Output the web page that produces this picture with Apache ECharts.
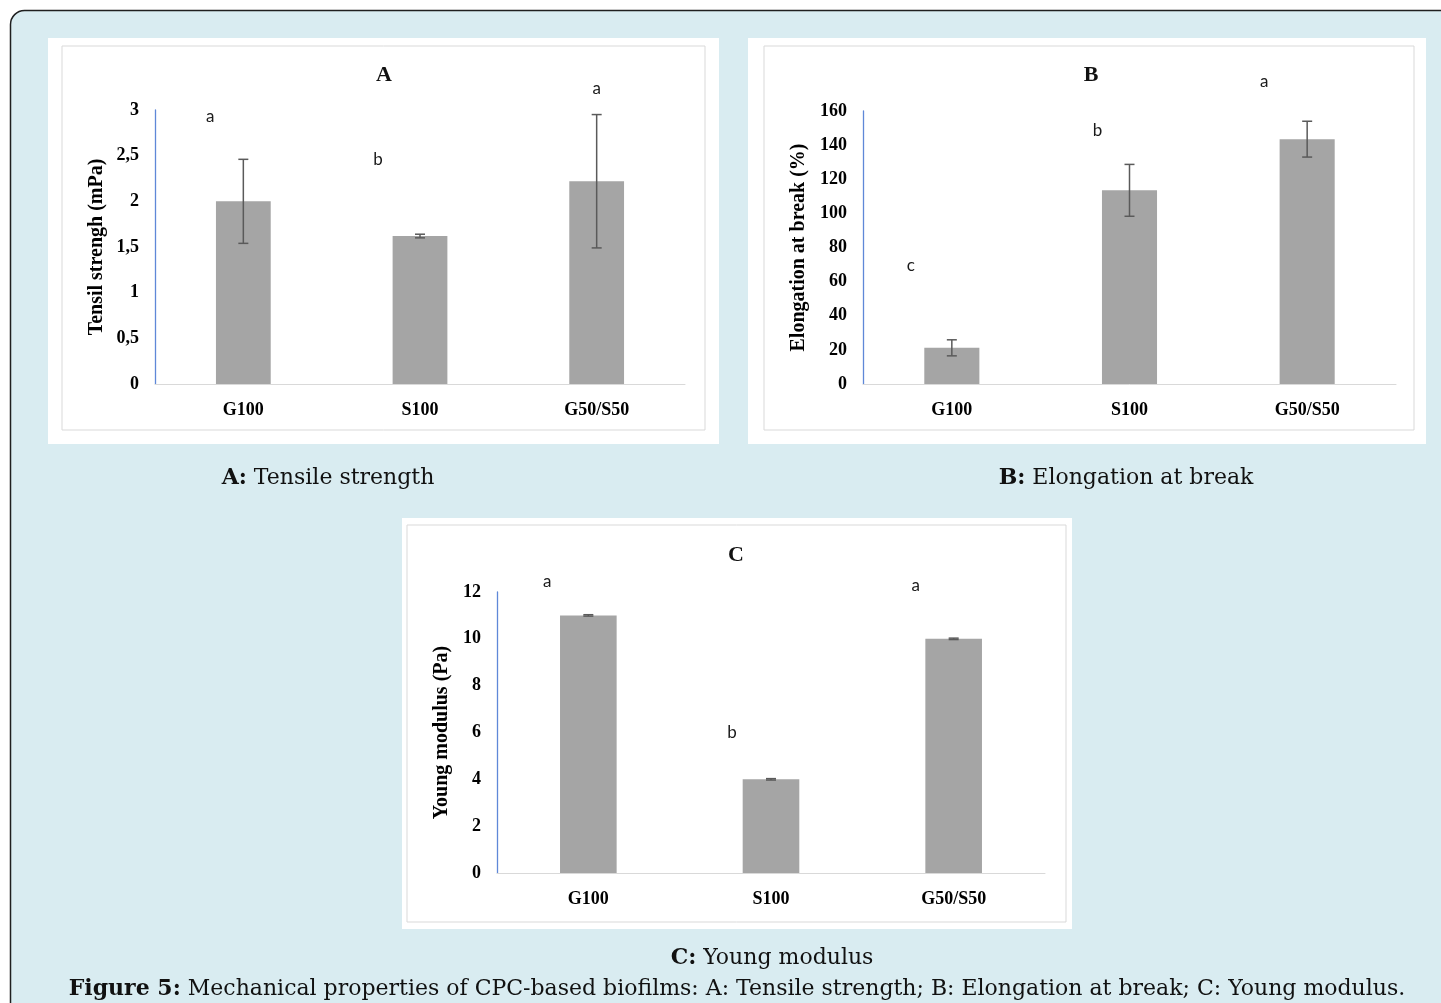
<!DOCTYPE html>
<html lang="en">
<head>
    <meta charset="utf-8" />
    <title>Figure 5</title>
    <style>
        html,
        body {
            margin: 0;
            background: #fff;
        }

        #main {
            width: 1441px;
            height: 1003px;
        }
    </style>
</head>
<body>
    <div id="main"></div>
    <script src="https://cdn.jsdelivr.net/npm/echarts@6/dist/echarts.min.js"></script>
    <script type="text/javascript">
        // data
        var categories = ['G100', 'S100', 'G50/S50'];

        var tensileValues = [2.0, 1.62, 2.22];
        var tensileErrors = [0.46, 0.02, 0.73];
        var tensileLetters = ['a', 'b', 'a'];
        var tensileLetterAt = [2.93, 2.46, 3.24];

        var elongationValues = [21.2, 113.5, 143.5];
        var elongationErrors = [4.7, 15.2, 10.5];
        var elongationLetters = ['c', 'b', 'a'];
        var elongationLetterAt = [69.7, 148.3, 177];

        var youngValues = [11.0, 4.0, 10.0];
        var youngErrors = [0.03, 0.03, 0.03];
        var youngLetters = ['a', 'b', 'a'];
        var youngLetterAt = [12.43, 6.02, 12.26];

        var chart = echarts.init(document.getElementById('main'));

        var serif = '"Liberation Serif", "Times New Roman", serif';
        var barColor = '#a5a5a5';
        var errColor = '#5a5a5a';

        function errorBars(params, api) {
            var x = api.value(0), y = api.value(1), e = api.value(2);
            var hi = api.coord([x, y + e]);
            var lo = api.coord([x, y - e]);
            var w = 5;
            var st = { stroke: errColor, lineWidth: 1.5 };
            return {
                type: 'group',
                children: [
                    { type: 'line', shape: { x1: hi[0], y1: hi[1], x2: lo[0], y2: lo[1] }, style: st },
                    { type: 'line', shape: { x1: hi[0] - w, y1: hi[1], x2: hi[0] + w, y2: hi[1] }, style: st },
                    { type: 'line', shape: { x1: lo[0] - w, y1: lo[1], x2: lo[0] + w, y2: lo[1] }, style: st }
                ]
            };
        }

        function letterRender(letters, shifts) {
            return function (params, api) {
                var p = api.coord([api.value(0), api.value(1)]);
                return {
                    type: 'text',
                    x: p[0] + shifts[params.dataIndex],
                    y: p[1],
                    style: {
                        text: letters[params.dataIndex],
                        fill: '#1a1a1a',
                        font: '17px Lato, "Open Sans", sans-serif',
                        align: 'center',
                        verticalAlign: 'middle'
                    }
                };
            };
        }

        function makeX(gi) {
            return {
                type: 'category',
                gridIndex: gi,
                data: categories,
                axisTick: { show: false },
                axisLine: { lineStyle: { color: '#d9d9d9', width: 1 } },
                axisLabel: {
                    color: '#000',
                    fontFamily: serif,
                    fontWeight: 'bold',
                    fontSize: 18,
                    margin: 17
                }
            };
        }

        function makeY(gi, name, max, interval, gap, comma) {
            return {
                type: 'value',
                gridIndex: gi,
                min: 0,
                max: max,
                interval: interval,
                name: name,
                nameLocation: 'middle',
                nameGap: gap,
                nameRotate: 90,
                nameTextStyle: {
                    color: '#000',
                    fontFamily: serif,
                    fontWeight: 'bold',
                    fontSize: 20
                },
                splitLine: { show: false },
                axisTick: { show: false },
                axisLine: { show: true, lineStyle: { color: '#5f88d8', width: 1.3 } },
                axisLabel: {
                    color: '#000',
                    fontFamily: serif,
                    fontWeight: 'bold',
                    fontSize: 18,
                    margin: 16,
                    formatter: function (v) {
                        var s = String(v);
                        return comma ? s.replace('.', ',') : s;
                    }
                }
            };
        }

        function seriesFor(gi, values, errors, letters, letterAt, shifts) {
            return [{
                type: 'bar',
                xAxisIndex: gi,
                yAxisIndex: gi,
                data: values,
                barWidth: '31%',
                itemStyle: { color: barColor },
                silent: true
            }, {
                type: 'custom',
                xAxisIndex: gi,
                yAxisIndex: gi,
                renderItem: errorBars,
                encode: { x: 0, y: 1 },
                data: values.map(function (v, i) { return [i, v, errors[i]]; }),
                z: 5,
                silent: true
            }, {
                type: 'custom',
                xAxisIndex: gi,
                yAxisIndex: gi,
                renderItem: letterRender(letters, shifts),
                encode: { x: 0, y: 1 },
                data: letterAt.map(function (v, i) { return [i, v]; }),
                clip: false,
                z: 6,
                silent: true
            }];
        }

        function panel(x, y, w, h, inset) {
            return [{
                type: 'rect',
                shape: { x: x, y: y, width: w, height: h },
                style: { fill: '#fff' },
                z: -10
            }, {
                type: 'rect',
                shape: { x: x + inset[0], y: y + inset[1], width: w - inset[0] - inset[2], height: h - inset[1] - inset[3] },
                style: { fill: 'none', stroke: '#d9d9d9', lineWidth: 1 },
                z: -9
            }];
        }

        function txt(x, y, text, font, rich) {
            return {
                type: 'text',
                x: x,
                y: y,
                style: {
                    text: text,
                    font: font,
                    fill: '#111',
                    align: 'center',
                    verticalAlign: 'middle',
                    rich: rich || {}
                },
                z: 10
            };
        }

        var capFont = '22px "DejaVu Serif", serif';
        var capRich = { b: { fontWeight: 'bold', fontFamily: '"DejaVu Serif", serif', fontSize: 22, fill: '#111' } };

        var graphics = [{
            type: 'rect',
            shape: { x: 10.5, y: 10.5, width: 1460, height: 1020, r: 14 },
            style: { fill: '#d9ecf1', stroke: '#1f1f1f', lineWidth: 1.5 },
            z: -20
        }]
            .concat(panel(48, 38, 671, 406, [14, 8, 14, 14]))
            .concat(panel(748, 38, 678, 406, [16, 8, 12, 14]))
            .concat(panel(402, 518, 670, 411, [5, 7, 6, 7]))
            .concat([
                txt(384, 75, 'A', 'bold 22px ' + serif),
                txt(1091, 75, 'B', 'bold 22px ' + serif),
                txt(736, 555, 'C', 'bold 22px ' + serif),
                txt(328, 478, '{b|A:} Tensile strength', capFont, capRich),
                txt(1126, 478, '{b|B:} Elongation at break', capFont, capRich),
                txt(772, 958, '{b|C:} Young modulus', capFont, capRich),
                txt(737, 989, '{b|Figure 5:} Mechanical properties of CPC-based biofilms: A: Tensile strength; B: Elongation at break; C: Young modulus.', capFont, capRich)
            ]);

        var option = {
            animation: false,
            graphic: graphics,
            grid: [
                { left: 155, top: 110, width: 530, height: 274 },
                { left: 863, top: 111, width: 533, height: 273 },
                { left: 497, top: 592, width: 548, height: 281 }
            ],
            xAxis: [makeX(0), makeX(1), makeX(2)],
            yAxis: [
                makeY(0, 'Tensil strengh (mPa)', 3, 0.5, 48, true),
                makeY(1, 'Elongation at break (%)', 160, 20, 54, false),
                makeY(2, 'Young modulus (Pa)', 12, 2, 45, false)
            ],
            series: []
                .concat(seriesFor(0, tensileValues, tensileErrors, tensileLetters, tensileLetterAt, [-33, -42, 0]))
                .concat(seriesFor(1, elongationValues, elongationErrors, elongationLetters, elongationLetterAt, [-41, -32, -43]))
                .concat(seriesFor(2, youngValues, youngErrors, youngLetters, youngLetterAt, [-41, -39, -38]))
        };

        chart.setOption(option);
    </script>
</body>
</html>
